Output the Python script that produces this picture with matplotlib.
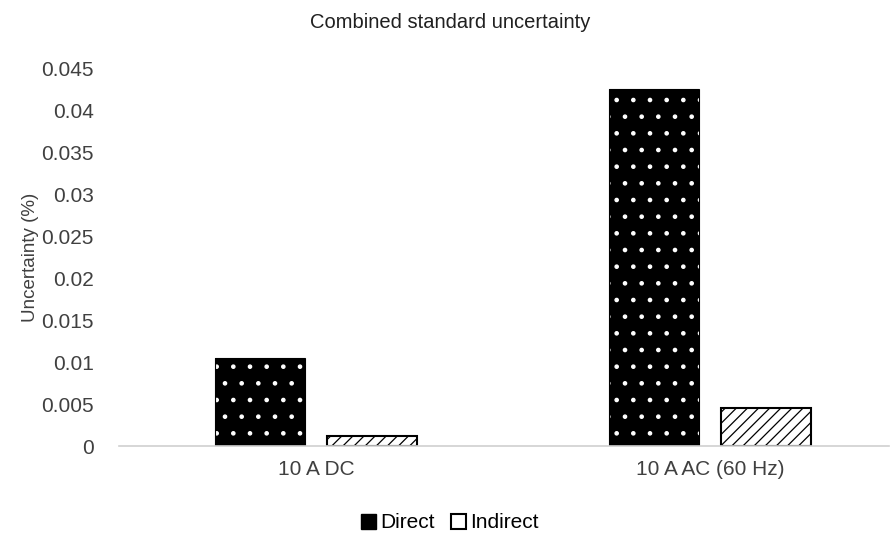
import numpy as np
import matplotlib.pyplot as plt
from matplotlib.patches import Patch

plt.rcParams['font.family'] = ['Liberation Sans', 'DejaVu Sans']
plt.rcParams['hatch.linewidth'] = 0.9

# Data
categories = ['10 A DC', '10 A AC (60 Hz)']
direct = [0.0105, 0.0425]
indirect = [0.0012, 0.0045]
yticks = [0, 0.005, 0.01, 0.015, 0.02, 0.025, 0.03, 0.035, 0.04, 0.045]
ytick_labels = ['0', '0.005', '0.01', '0.015', '0.02', '0.025', '0.03', '0.035', '0.04', '0.045']

fig = plt.figure(figsize=(8.91, 5.37), dpi=100)
ax = fig.add_axes([119 / 891, 1 - 446 / 537, 770 / 891, (446 - 68) / 537])

x = np.arange(len(categories))
w = 0.228
off = 0.143

# direct: black with white dots (hatch drawn in edge colour)
ax.bar(x - off, direct, w, color='black', edgecolor='white', hatch='.', linewidth=0)
ax.bar(x - off, direct, w, fill=False, edgecolor='black', linewidth=0.8)
ax.bar(x + off, indirect, w, color='white', edgecolor='black', hatch='///', linewidth=1.5)

ax.set_xlim(-0.5, -0.5 + 770 / 394)
ax.set_ylim(0, 0.045)
ax.set_xticks(x)
ax.set_xticklabels(categories, fontsize=15, color='#404040')
ax.set_yticks(yticks)
ax.set_yticklabels(ytick_labels, fontsize=15, color='#404040')
ax.tick_params(axis='y', length=0, pad=18)
ax.tick_params(axis='x', length=0, pad=10)
for s in ['top', 'right', 'left']:
    ax.spines[s].set_visible(False)
ax.spines['bottom'].set_color('#d0d0d0')
ax.spines['bottom'].set_linewidth(1.2)

ax.set_ylabel('Uncertainty (%)', fontsize=13.5, color='#404040', labelpad=2)
fig.text(0.505, 1 - 22 / 537, 'Combined standard uncertainty', ha='center', va='center',
         fontsize=14.5, color='#202020')

handles = [Patch(facecolor='black', edgecolor='black', label='Direct'),
           Patch(facecolor='white', edgecolor='black', linewidth=1.5, label='Indirect')]
fig.legend(handles=handles, loc='center', bbox_to_anchor=(0.505, 1 - 523 / 537), ncol=2,
           frameon=False, fontsize=15, handlelength=0.7, handleheight=0.7,
           handletextpad=0.2, columnspacing=0.8)

fig.savefig('out.png', dpi=100)
